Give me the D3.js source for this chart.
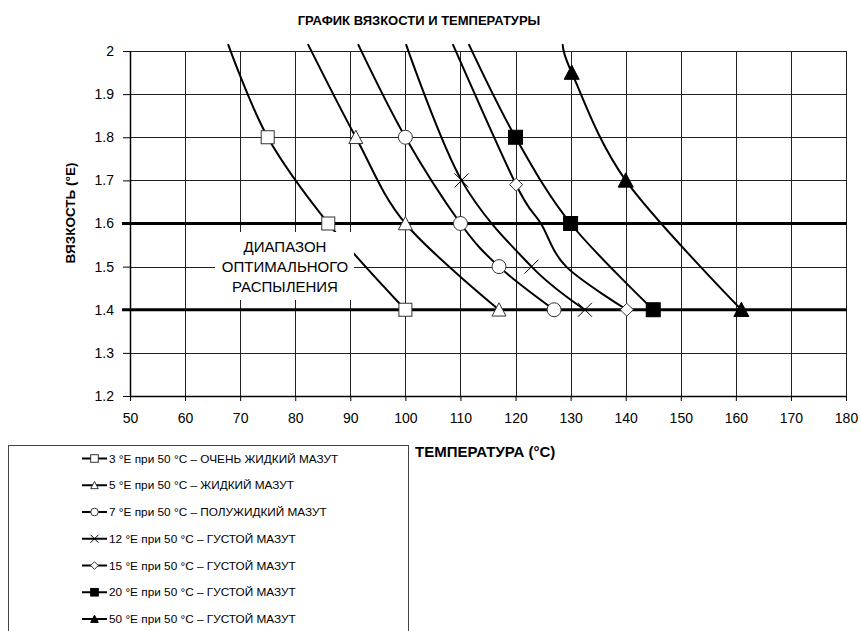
<!DOCTYPE html>
<html>
<head>
<meta charset="utf-8">
<script src="https://cdn.jsdelivr.net/npm/d3@7"></script>
<style>
  body { margin: 0; background: #fff; }
  text { font-family: Arial, "Liberation Sans", sans-serif; fill: #000; }
</style>
</head>
<body>
<div id="chart"></div>
<script>
//Données
const xTicks = [50, 60, 70, 80, 90, 100, 110, 120, 130, 140, 150, 160, 170, 180];
const yTicks = [1.2, 1.3, 1.4, 1.5, 1.6, 1.7, 1.8, 1.9, 2];
const bandLimits = [1.4, 1.6];
const bandLabel = ["ДИАПАЗОН", "ОПТИМАЛЬНОГО", "РАСПЫЛЕНИЯ"];

const names = [
  "3 °E при 50 °C – ОЧЕНЬ ЖИДКИЙ МАЗУТ",
  "5 °E при 50 °C – ЖИДКИЙ МАЗУТ",
  "7 °E при 50 °C – ПОЛУЖИДКИЙ МАЗУТ",
  "12 °E при 50 °C – ГУСТОЙ МАЗУТ",
  "15 °E при 50 °C – ГУСТОЙ МАЗУТ",
  "20 °E при 50 °C – ГУСТОЙ МАЗУТ",
  "50 °E при 50 °C – ГУСТОЙ МАЗУТ"
];
const markerTypes = ["square", "triangle", "circle", "cross", "diamond", "squareFill", "triangleFill"];

//------Température (°C), viscosité (°E), 1 = point avec marqueur
const temp3 = [67.8, 75, 86, 100];
const visc3 = [2.016, 1.8, 1.6, 1.4];
const mark3 = [0, 1, 1, 1];

const temp5 = [82.3, 91, 100, 117];
const visc5 = [2.016, 1.8, 1.6, 1.4];
const mark5 = [0, 1, 1, 1];

const temp7 = [91.4, 100, 110, 117, 127];
const visc7 = [2.016, 1.8, 1.6, 1.5, 1.4];
const mark7 = [0, 1, 1, 1, 1];

const temp12 = [100.1, 110.2, 122.9, 132.6];
const visc12 = [2.016, 1.7, 1.5, 1.4];
const mark12 = [0, 1, 1, 1];

const temp15 = [108.6, 120.1, 124.6, 129.2, 140.2];
const visc15 = [2.016, 1.69, 1.6, 1.5, 1.4];
const mark15 = [0, 1, 0, 0, 1];

const temp20 = [111.5, 120, 130, 145];
const visc20 = [2.016, 1.8, 1.6, 1.4];
const mark20 = [0, 1, 1, 1];

const temp50 = [128.6, 130.2, 140, 161];
const visc50 = [2.016, 1.95, 1.7, 1.4];
const mark50 = [0, 1, 1, 1];

const temps = [temp3, temp5, temp7, temp12, temp15, temp20, temp50];
const viscs = [visc3, visc5, visc7, visc12, visc15, visc20, visc50];
const marks = [mark3, mark5, mark7, mark12, mark15, mark20, mark50];

let data = names.map((n, i) => ({
  'name': n,
  'marker': markerTypes[i],
  'points': temps[i].map((t, j) => ({ 't': t, 'v': viscs[i][j], 'm': marks[i][j] }))
}));

//------Création du svg
const svg = d3
  .select("#chart")
  .append("svg")
  .attr("width", 861)
  .attr("height", 631);

const xScale = d3.scaleLinear().domain([50, 180]).range([130, 846]);
const yScale = d3.scaleLinear().domain([1.2, 2]).range([396, 51]);

//------Titre
svg.append("text")
  .attr("x", 419)
  .attr("y", 25)
  .attr("text-anchor", "middle")
  .style("font-size", "13px")
  .style("font-weight", "bold")
  .text("ГРАФИК ВЯЗКОСТИ И ТЕМПЕРАТУРЫ");

//------Grille
const grid = svg.append("g").attr("stroke", "#222").attr("stroke-width", 1);
grid.selectAll(".vline")
  .data(xTicks.slice(1))
  .enter()
  .append("line")
  .attr("x1", d => Math.round(xScale(d)) + 0.5)
  .attr("x2", d => Math.round(xScale(d)) + 0.5)
  .attr("y1", yScale(2))
  .attr("y2", yScale(1.2));
grid.selectAll(".hline")
  .data(yTicks.slice(1))
  .enter()
  .append("line")
  .attr("x1", xScale(50))
  .attr("x2", xScale(180))
  .attr("y1", d => Math.round(yScale(d)) + 0.5)
  .attr("y2", d => Math.round(yScale(d)) + 0.5);

//------Limites du diapason (lignes épaisses)
svg.selectAll(".band")
  .data(bandLimits)
  .enter()
  .append("line")
  .attr("x1", xScale(50) - 8)
  .attr("x2", xScale(180) + 1)
  .attr("y1", d => yScale(d))
  .attr("y2", d => yScale(d))
  .attr("stroke", "#000")
  .attr("stroke-width", 3);

//------Axes
svg.append("g")
  .attr("transform", `translate(${xScale(50)},0)`)
  .call(d3.axisLeft(yScale).tickValues(yTicks).tickSize(7).tickSizeOuter(0).tickPadding(9).tickFormat(d => d))
  .call(g => g.select(".domain").attr("stroke-width", 1.5))
  .selectAll("text")
  .style("font-size", "14px");

svg.append("g")
  .attr("transform", `translate(0,${yScale(1.2)})`)
  .call(d3.axisBottom(xScale).tickValues(xTicks).tickSize(5).tickSizeOuter(0).tickPadding(12))
  .call(g => g.select(".domain").attr("stroke-width", 1.5))
  .selectAll("text")
  .style("font-size", "14px");

//------Titres des axes
svg.append("text")
  .attr("transform", "translate(75,213) rotate(-90)")
  .attr("text-anchor", "middle")
  .style("font-size", "13.5px")
  .style("font-weight", "bold")
  .text("ВЯЗКОСТЬ (°E)");

svg.append("text")
  .attr("x", 415)
  .attr("y", 457)
  .style("font-size", "15px")
  .style("font-weight", "bold")
  .text("ТЕМПЕРАТУРА (°C)");

//------Courbes lissées
const line = d3.line()
  .x(d => xScale(d.t))
  .y(d => yScale(d.v))
  .curve(d3.curveCardinal.tension(0));

svg.selectAll(".curve")
  .data(data)
  .enter()
  .append("path")
  .attr("class", "curve")
  .attr("d", d => line(d.points))
  .attr("fill", "none")
  .attr("stroke", "#000")
  .attr("stroke-width", 2);

//------Marqueurs
function addMarker(sel, type, s) {
  let open = !type.endsWith("Fill");
  let shape;
  if (type.startsWith("square")) {
    shape = sel.append("rect").attr("x", -s).attr("y", -s).attr("width", 2 * s).attr("height", 2 * s);
  } else if (type.startsWith("triangle")) {
    shape = sel.append("path").attr("d", `M0,${-s}L${s},${s * 0.9}L${-s},${s * 0.9}Z`);
  } else if (type == "circle") {
    shape = sel.append("circle").attr("r", s);
  } else if (type == "diamond") {
    shape = sel.append("path").attr("d", `M0,${-s}L${s},0L0,${s}L${-s},0Z`);
  } else {
    return sel.append("path")
      .attr("d", `M${-s},${-s}L${s},${s}M${s},${-s}L${-s},${s}`)
      .attr("stroke", "#000")
      .attr("fill", "none")
      .attr("stroke-width", 1);
  }
  shape.attr("fill", open ? "#fff" : "#000")
    .attr("stroke", open ? "#333" : "#000")
    .attr("stroke-width", 1);
}

const markerSize = { square: 6.5, triangle: 7, circle: 7, cross: 7, diamond: 6.5, squareFill: 7, triangleFill: 7.5 };

data.forEach(s => {
  s.points.filter(p => p.m == 1).forEach(p => {
    let g = svg.append("g").attr("transform", `translate(${xScale(p.t)},${yScale(p.v)})`);
    addMarker(g, s.marker, markerSize[s.marker]);
  });
});

//------Encadré "diapason optimal"
svg.append("rect")
  .attr("x", 215)
  .attr("y", 232)
  .attr("width", 139)
  .attr("height", 68)
  .attr("fill", "#fff");

svg.selectAll(".bandtxt")
  .data(bandLabel)
  .enter()
  .append("text")
  .attr("x", 285)
  .attr("y", (d, i) => 252 + i * 20)
  .attr("text-anchor", "middle")
  .style("font-size", "15px")
  .text(d => d);

//------Légende
const legende = svg.append("g");
legende.append("rect")
  .attr("x", 8.5)
  .attr("y", 445.5)
  .attr("width", 400)
  .attr("height", 200)
  .attr("fill", "none")
  .attr("stroke", "#444");

const rows = legende.selectAll(".leg")
  .data(data)
  .enter()
  .append("g")
  .attr("transform", (d, i) => `translate(0,${458.5 + i * 26.75})`);

rows.append("line")
  .attr("x1", 82)
  .attr("x2", 107)
  .attr("stroke", "#000")
  .attr("stroke-width", 2);

rows.each(function (d) {
  let g = d3.select(this).append("g").attr("transform", "translate(94.5,0)");
  addMarker(g, d.marker, d.marker == "cross" ? 4 : 3.8);
});

rows.append("text")
  .attr("x", 109)
  .attr("dy", "0.35em")
  .style("font-size", "11.8px")
  .text(d => d.name);
</script>
</body>
</html>
